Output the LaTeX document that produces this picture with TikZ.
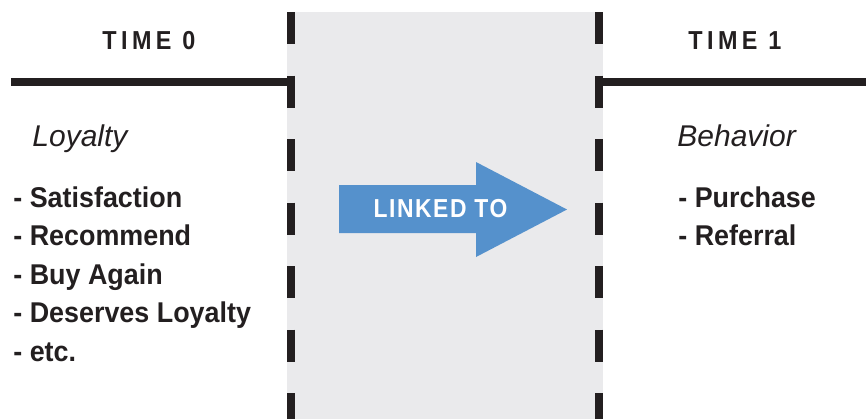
\documentclass[tikz,border=0pt]{standalone}
\usepackage{fontspec}
\setmainfont{Liberation Sans}
\newfontfamily\condfont[FakeStretch=0.94]{Liberation Sans}
\newfontfamily\trackfont[FakeStretch=0.9,LetterSpace=17]{Liberation Sans}
\newfontfamily\tagfont[FakeStretch=0.88,LetterSpace=6]{Liberation Sans}
\usetikzlibrary{positioning}
\definecolor{bandgray}{RGB}{234,234,236}
\definecolor{inkblack}{RGB}{35,31,32}
\definecolor{arrowblue}{RGB}{85,145,204}

\begin{document}
\begin{tikzpicture}[
  x=0.5pt,y=-0.5pt,
  timelbl/.style={font=\trackfont\bfseries\fontsize{13}{15}\selectfont,
                  text=inkblack,inner sep=0pt,anchor=base west},
  heading/.style={font=\itshape\fontsize{15}{18}\selectfont,
                  text=inkblack,inner sep=0pt,anchor=base west},
  item/.style={font=\condfont\bfseries\fontsize{14.3}{17}\selectfont,
               text=inkblack,inner sep=0pt,anchor=base west},
  tag/.style={font=\tagfont\bfseries\fontsize{13}{15}\selectfont,
              text=white,inner sep=0pt},
  rule/.style={line width=4pt,inkblack},
  border/.style={line width=4pt,inkblack,dash pattern=on 16pt off 15.75pt}
]
\useasboundingbox (0,0) rectangle (866,419);

% shaded gap between the two points in time
\fill[bandgray] (287,12) rectangle (603,419);

% dashed borders of the gap
\coordinate (ltop) at (291,12);
\coordinate (lbot) at (291,419);
\coordinate (rtop) at (599,12);
\coordinate (rbot) at (599,419);
\draw[border] (ltop) -- (lbot);
\draw[border] (rtop) -- (rbot);

% time axis on both sides
\coordinate (lstart) at (11,82);
\coordinate (rend) at (866,82);
\draw[rule] (lstart) -- (ltop |- lstart);
\draw[rule] (rtop |- rend) -- (rend);

\node[timelbl] (t0) at (102,49) {TIME 0};
\node[timelbl] (t1) at (688,49) {TIME 1};

% time 0 column
\node[heading] (loyalty) at (32,146) {Loyalty};
\foreach \txt [count=\i] in {Satisfaction,Recommend,Buy Again,Deserves Loyalty,etc.}
  \node[item] (loy\i) at (13,{207+38.5*(\i-1)}) {- \txt};

% time 1 column
\node[heading] (behavior) at (677,146) {Behavior};
\foreach \txt [count=\i] in {Purchase,Referral}
  \node[item] (beh\i) at (678,{207+38.5*(\i-1)}) {- \txt};

% link arrow
\fill[arrowblue] (339,185) -- (476,185) -- (476,162) -- (567,209.5)
  -- (476,257) -- (476,233) -- (339,233) -- cycle;
\node[tag] (link) at (440.5,208.5) {LINKED TO};
\end{tikzpicture}
\end{document}
